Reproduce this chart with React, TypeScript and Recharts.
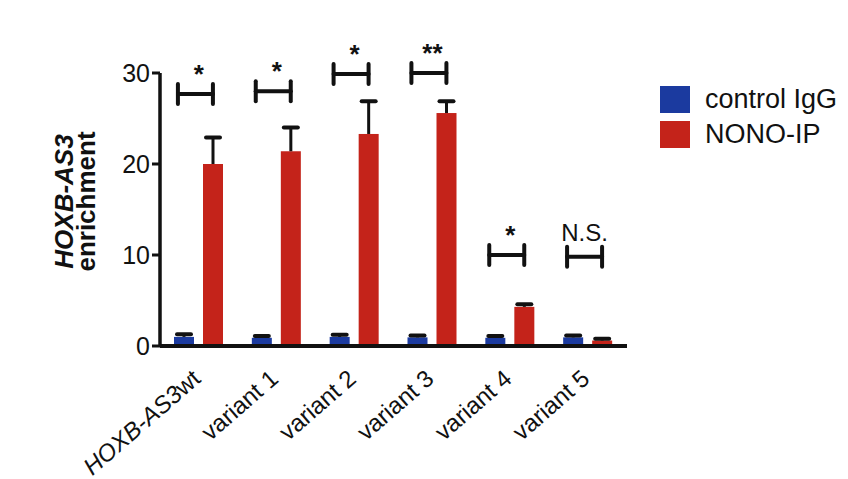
import { ComposedChart, Bar, Line, XAxis, YAxis, Legend } from 'recharts';

const categories = ['HOXB-AS3wt', 'variant 1', 'variant 2', 'variant 3', 'variant 4', 'variant 5'];
const controlIgG = [1.0, 0.9, 1.0, 0.95, 0.9, 0.95];
const controlErr = [0.3, 0.2, 0.25, 0.2, 0.2, 0.2];
const nonoIP = [20.0, 21.4, 23.3, 25.6, 4.3, 0.6];
const nonoErr = [2.9, 2.6, 3.6, 1.3, 0.3, 0.2];
const bracketLevel = [27.7, 28.0, 29.9, 30.0, 10.0, 9.8];
const significance = ['*', '*', '*', '**', '*', 'N.S.'];
const yTicks = [0, 10, 20, 30];

const BLUE = '#1b3a9f';
const RED = '#c4231a';
const FONT = '"Liberation Sans", Arial, sans-serif';

const data = categories.map((name, i) => ({
  name,
  igg: controlIgG[i],
  iggErr: controlErr[i],
  nono: nonoIP[i],
  nonoErr: nonoErr[i],
  bracket: bracketLevel[i],
  sig: significance[i],
}));

const legendItems = [
  { name: 'control IgG', color: BLUE },
  { name: 'NONO-IP', color: RED },
];

// bar with an upper-only error bar on top
const barShape = (valueKey: string, errKey: string, color: string) => (props: any) => {
  const { x, y, width, height, payload } = props;
  const v = payload[valueKey];
  const ppu = v ? height / v : 0;
  const top = y - payload[errKey] * ppu;
  const cx = x + width / 2;
  return (
    <g>
      <rect x={x} y={y} width={width} height={height} fill={color} />
      <line x1={cx} x2={cx} y1={y} y2={top} stroke="#111" strokeWidth={3} />
      <line x1={cx - 7} x2={cx + 7} y1={top} y2={top} stroke="#111" strokeWidth={4} strokeLinecap="round" />
    </g>
  );
};

const renderBracket = (props: any) => {
  const { cx, cy, payload, index } = props;
  if (cx == null || cy == null) return <g key={index} />;
  const l = cx - 21;
  const r = cx + 14;
  const ns = payload.sig === 'N.S.';
  return (
    <g key={index}>
      <g stroke="#111" strokeWidth={4} strokeLinecap="round">
        <line x1={l} x2={l} y1={cy - 10} y2={cy + 10} />
        <line x1={r} x2={r} y1={cy - 10} y2={cy + 10} />
        <line x1={l} x2={r} y1={cy} y2={cy} />
      </g>
      <text
        x={ns ? (l + r) / 2 : cx}
        y={ns ? cy - 16 : cy - 11}
        textAnchor="middle"
        fontFamily={FONT}
        fontSize={ns ? 24 : 26}
        fontWeight={ns ? 'normal' : 'bold'}
        fill="#111"
      >
        {payload.sig}
      </text>
    </g>
  );
};

const XTick = (props: any) => {
  const { x, y, payload } = props;
  const label: string = payload.value;
  return (
    <g transform={`translate(${x + 3},${y + 35})`}>
      <text transform="rotate(-41)" textAnchor="end" fontFamily={FONT} fontSize={24} fill="#111">
        {label === 'HOXB-AS3wt' ? (
          <>
            <tspan fontStyle="italic">HOXB-AS3</tspan>
            <tspan>wt</tspan>
          </>
        ) : (
          label
        )}
      </text>
    </g>
  );
};

const YLabel = (props: any) => {
  const { viewBox } = props;
  const cy = viewBox.y + viewBox.height / 2 - 8;
  return (
    <g fontFamily={FONT} fontSize={26} fontWeight="bold" fill="#111">
      <text x={73} y={cy} transform={`rotate(-90,73,${cy})`} textAnchor="middle" fontStyle="italic">
        HOXB-AS3
      </text>
      <text x={95} y={cy} transform={`rotate(-90,95,${cy})`} textAnchor="middle">
        enrichment
      </text>
    </g>
  );
};

const LegendBox = () => (
  <div style={{ fontFamily: FONT, fontSize: 27, color: '#111' }}>
    {legendItems.map((it) => (
      <div key={it.name} style={{ display: 'flex', alignItems: 'center', height: 35 }}>
        <span style={{ display: 'inline-block', width: 30, height: 27, background: it.color, marginRight: 15 }} />
        <span>{it.name}</span>
      </div>
    ))}
  </div>
);

export default function App() {
  return (
    <div style={{ position: 'absolute', left: 0, top: 0, width: 848, height: 479, background: '#fff' }}>
      <ComposedChart
        width={848}
        height={479}
        data={data}
        margin={{ top: 73, right: 221, bottom: 33, left: 0 }}
        barSize={20}
        barGap={9}
      >
        <XAxis
          dataKey="name"
          height={100}
          axisLine={{ stroke: '#111', strokeWidth: 4 }}
          tickLine={false}
          tickSize={0}
          tickMargin={0}
          interval={0}
          tick={<XTick />}
        />
        <YAxis
          width={160}
          domain={[0, 30]}
          ticks={yTicks}
          axisLine={{ stroke: '#111', strokeWidth: 3.5 }}
          tickLine={{ stroke: '#111', strokeWidth: 3 }}
          tickSize={8}
          tick={{ fill: '#111', fontSize: 25, fontFamily: FONT }}
          label={<YLabel />}
        />
        <Legend
          layout="vertical"
          align="center"
          verticalAlign="middle"
          content={<LegendBox />}
          wrapperStyle={{ left: 660, top: 82, width: 188 }}
        />
        <Bar dataKey="igg" name="control IgG" fill={BLUE} shape={barShape('igg', 'iggErr', BLUE)} isAnimationActive={false} />
        <Bar dataKey="nono" name="NONO-IP" fill={RED} shape={barShape('nono', 'nonoErr', RED)} isAnimationActive={false} />
        <Line
          dataKey="bracket"
          stroke="none"
          dot={renderBracket}
          activeDot={false}
          legendType="none"
          isAnimationActive={false}
        />
      </ComposedChart>
    </div>
  );
}
